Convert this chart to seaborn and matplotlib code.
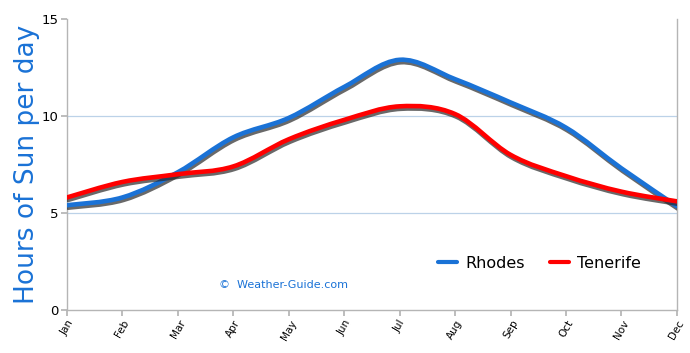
import numpy as np
import seaborn as sns
import matplotlib.pyplot as plt
import matplotlib.patheffects as pe
from matplotlib.path import Path
from matplotlib.patches import PathPatch
from matplotlib.lines import Line2D

# monthly average hours of sunshine per day
months = ["Jan", "Feb", "Mar", "Apr", "May", "Jun",
          "Jul", "Aug", "Sep", "Oct", "Nov", "Dec"]
rhodes = [5.4, 5.8, 7.1, 8.9, 9.9, 11.5, 12.9, 11.9, 10.7, 9.4, 7.3, 5.35]
tenerife = [5.8, 6.6, 7.0, 7.4, 8.8, 9.8, 10.5, 10.1, 8.0, 6.9, 6.1, 5.6]
yticks = [0, 5, 10, 15]

sns.set_theme(style="white")
plt.rcParams["font.family"] = ["DejaVu Sans"]

blue = "#1a72d6"
red = "#ff0000"


def smooth_path(x, y):
    # excel-style smoothed line: bezier segments through the data points
    x = np.asarray(x, float)
    y = np.asarray(y, float)
    verts = [(x[0], y[0])]
    codes = [Path.MOVETO]
    n = len(x)
    for i in range(n - 1):
        p0 = (x[max(i - 1, 0)], y[max(i - 1, 0)])
        p1 = (x[i], y[i])
        p2 = (x[i + 1], y[i + 1])
        p3 = (x[min(i + 2, n - 1)], y[min(i + 2, n - 1)])
        c1 = (p1[0] + (p2[0] - p0[0]) / 6, p1[1] + (p2[1] - p0[1]) / 6)
        c2 = (p2[0] - (p3[0] - p1[0]) / 6, p2[1] - (p3[1] - p1[1]) / 6)
        verts += [c1, c2, p2]
        codes += [Path.CURVE4] * 3
    return Path(verts, codes)


fig = plt.figure(figsize=(6.9, 3.53), dpi=100)
ax = fig.add_axes([0.097, 0.122, 0.884, 0.824])

xs = np.arange(len(months))
shadow = [pe.SimpleLineShadow(offset=(0.8, -1.8), shadow_color="#2a2a2a", alpha=0.7),
          pe.Normal()]
for vals, col in [(rhodes, blue), (tenerife, red)]:
    patch = PathPatch(smooth_path(xs, vals), facecolor="none", edgecolor=col,
                      lw=3.3, capstyle="round", joinstyle="round", zorder=3)
    patch.set_path_effects(shadow)
    ax.add_patch(patch)

ax.set_xlim(0, 11)
ax.set_ylim(0, 15)
ax.set_xticks(xs)
ax.set_xticklabels(months, rotation=60, fontsize=7.5, ha="center")
ax.set_yticks(yticks)
ax.set_yticklabels([str(t) for t in yticks], fontsize=9.5)

for t in [5, 10]:
    ax.axhline(t, color="#bcd2e8", lw=0.9, zorder=1)

for side in ["left", "bottom", "right"]:
    ax.spines[side].set_color("#b5b5b5")
    ax.spines[side].set_linewidth(1.0)
ax.spines["top"].set_visible(False)
ax.tick_params(axis="both", length=4, color="#b5b5b5", labelcolor="black",
               direction="out", left=True, bottom=True, pad=2)

ax.set_ylabel("Hours of Sun per day", color=blue, fontsize=19, labelpad=1)

ax.text(0.25, 0.075, "©  Weather-Guide.com", color=blue, fontsize=8,
        transform=ax.transAxes)

handles = [Line2D([], [], color=blue, lw=3),
           Line2D([], [], color=red, lw=3)]
leg = ax.legend(handles, ["Rhodes", "Tenerife"], ncol=2, frameon=False,
                loc="lower right", bbox_to_anchor=(0.965, 0.085), fontsize=11.5,
                handlelength=1.2, handletextpad=0.5, columnspacing=1.6)
for txt in leg.get_texts():
    txt.set_color("black")

plt.savefig("out.png", dpi=100)
